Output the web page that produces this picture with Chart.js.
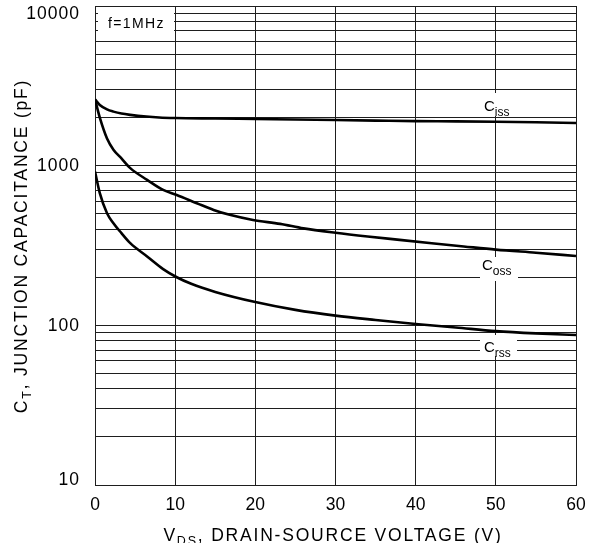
<!DOCTYPE html>
<html><head><meta charset="utf-8">
<script src="https://cdn.jsdelivr.net/npm/chart.js@4"></script>
<style>html,body{margin:0;padding:0;background:#fff}</style>
</head><body>
<canvas id="c" width="593" height="543"></canvas>
<script>
// ---- data ----
const cissV = [0, 0.6, 1.5, 2.3, 3.3, 4.4, 6.4, 8, 10, 15, 20, 25, 30, 35, 40, 45, 50, 55, 60];
const cissC = [2600, 2400, 2250, 2180, 2120, 2080, 2030, 2005, 1990, 1975, 1960, 1945, 1930, 1915, 1900, 1895, 1885, 1870, 1850];
const cossV = [0, 0.6, 1.5, 2.3, 3.3, 4.4, 6.5, 8.5, 10.2, 12.7, 14.8, 16.8, 19.7, 23.1, 26, 30, 34, 38, 42, 46, 50, 55, 60];
const cossC = [2600, 2000, 1480, 1260, 1110, 965, 815, 705, 655, 582, 528, 492, 457, 432, 405, 380, 360, 343, 327, 312, 298, 285, 272];
const crssV = [0, 0.6, 1.5, 2.3, 3.3, 4.4, 6.5, 8.5, 10.2, 12, 15, 20, 25, 30, 35, 40, 45, 50, 55, 60];
const crssC = [920, 673, 504, 436, 378, 327, 270, 225, 200, 182, 162, 140, 125, 115, 108, 102, 97, 92, 89, 87];
const xTickValues = [0, 10, 20, 30, 40, 50, 60];
const yTickLabels = [10, 100, 1000, 10000];
const yGridValues = [10,20,30,40,50,60,70,80,90,100,200,300,400,500,600,700,800,900,1000,2000,3000,4000,5000,6000,7000,8000,9000,10000];
const seriesNames = ['iss', 'oss', 'rss'];
const freqNote = 'f=1MHz';

const FONT = '"Liberation Sans", Arial, Helvetica, sans-serif';
const GRID = '#1e1e1e';

function pairs(xs, ys) { return xs.map((x, i) => ({x: x, y: ys[i]})); }

function drawParts(ctx, parts, x, y, align, size, subSize, subDrop, spacing) {
  ctx.save();
  ctx.letterSpacing = spacing + 'px';
  ctx.textAlign = 'left';
  ctx.textBaseline = 'alphabetic';
  ctx.fillStyle = '#000';
  let total = 0;
  const widths = parts.map(p => {
    ctx.font = (p.sub ? subSize : size) + 'px ' + FONT;
    const w = ctx.measureText(p.t).width; total += w; return w;
  });
  let cx = align === 'center' ? x - total / 2 : (align === 'right' ? x - total : x);
  parts.forEach((p, i) => {
    ctx.font = (p.sub ? subSize : size) + 'px ' + FONT;
    ctx.fillText(p.t, cx, y + (p.sub ? subDrop : 0));
    cx += widths[i];
  });
  ctx.restore();
}

const annot = {
  id: 'annot',
  afterDraw(chart) {
    const ctx = chart.ctx;
    const ys = chart.scales.y;
    // y tick labels
    ctx.save();
    ctx.font = '17.5px ' + FONT;
    ctx.letterSpacing = '1px';
    ctx.fillStyle = '#000';
    ctx.textAlign = 'right';
    ctx.textBaseline = 'middle';
    yTickLabels.forEach(v => {
      let py = ys.getPixelForValue(v);
      py = Math.min(Math.max(py, 13), 479);
      ctx.fillText(String(v), 80, py + 1);
    });
    ctx.restore();

    // white boxes behind labels
    ctx.save();
    ctx.fillStyle = '#fff';
    ctx.fillRect(98, 7, 76, 29);
    ctx.fillRect(482, 93, 31, 23);
    ctx.fillRect(480, 257, 38, 24);
    ctx.fillRect(480, 335, 37, 21);
    ctx.restore();

    drawParts(ctx, [{t: freqNote}], 108, 28, 'left', 14, 11, 0, 1.4);
    drawParts(ctx, [{t: 'C'}, {t: seriesNames[0], sub: true}], 484, 111, 'left', 15, 12, 4.5, 0);
    drawParts(ctx, [{t: 'C'}, {t: seriesNames[1], sub: true}], 482, 270, 'left', 15, 12, 4.5, 0);
    drawParts(ctx, [{t: 'C'}, {t: seriesNames[2], sub: true}], 484, 352, 'left', 15, 12, 4.5, 0);

    // x title
    drawParts(ctx, [{t: 'V'}, {t: 'DS', sub: true}, {t: ', DRAIN-SOURCE VOLTAGE (V)'}], 333, 541, 'center', 17.5, 12.5, 4, 1.8);
    // y title
    ctx.save();
    ctx.translate(0, 246);
    ctx.rotate(-Math.PI / 2);
    drawParts(ctx, [{t: 'C'}, {t: 'T', sub: true}, {t: ', JUNCTION CAPACITANCE (pF)'}], 0, 27, 'center', 17.5, 12.5, 4, 1.8);
    ctx.restore();
  }
};

const lineStyle = {borderColor: '#000', borderWidth: 2.6, pointRadius: 0, tension: 0.4, cubicInterpolationMode: 'monotone', fill: false};

new Chart(document.getElementById('c'), {
  type: 'line',
  data: {
    datasets: [
      Object.assign({label: 'Ciss', data: pairs(cissV, cissC)}, lineStyle),
      Object.assign({label: 'Coss', data: pairs(cossV, cossC)}, lineStyle),
      Object.assign({label: 'Crss', data: pairs(crssV, crssC)}, lineStyle)
    ]
  },
  options: {
    responsive: false,
    animation: false,
    devicePixelRatio: 1,
    layout: {padding: {top: 6, right: 17, bottom: 0, left: 0}},
    plugins: {legend: {display: false}, tooltip: {enabled: false}},
    scales: {
      x: {
        type: 'linear', min: 0, max: 60,
        afterBuildTicks: s => { s.ticks = xTickValues.map(v => ({value: v})); },
        afterFit: s => { s.height = 58; s.paddingLeft = 0; s.paddingRight = 0; },
        grid: {color: GRID, lineWidth: 1, drawTicks: false},
        border: {color: GRID, width: 1},
        ticks: {color: '#000', font: {family: FONT, size: 17.5}, padding: 10, maxRotation: 0, autoSkip: false}
      },
      y: {
        type: 'logarithmic', min: 10, max: 10000,
        afterBuildTicks: s => { s.ticks = yGridValues.map(v => ({value: v})); },
        afterFit: s => { s.width = 95; s.paddingTop = 0; s.paddingBottom = 0; },
        grid: {color: GRID, lineWidth: 1, drawTicks: false},
        border: {color: GRID, width: 1},
        ticks: {display: false}
      }
    }
  },
  plugins: [annot]
});
</script>
</body></html>
